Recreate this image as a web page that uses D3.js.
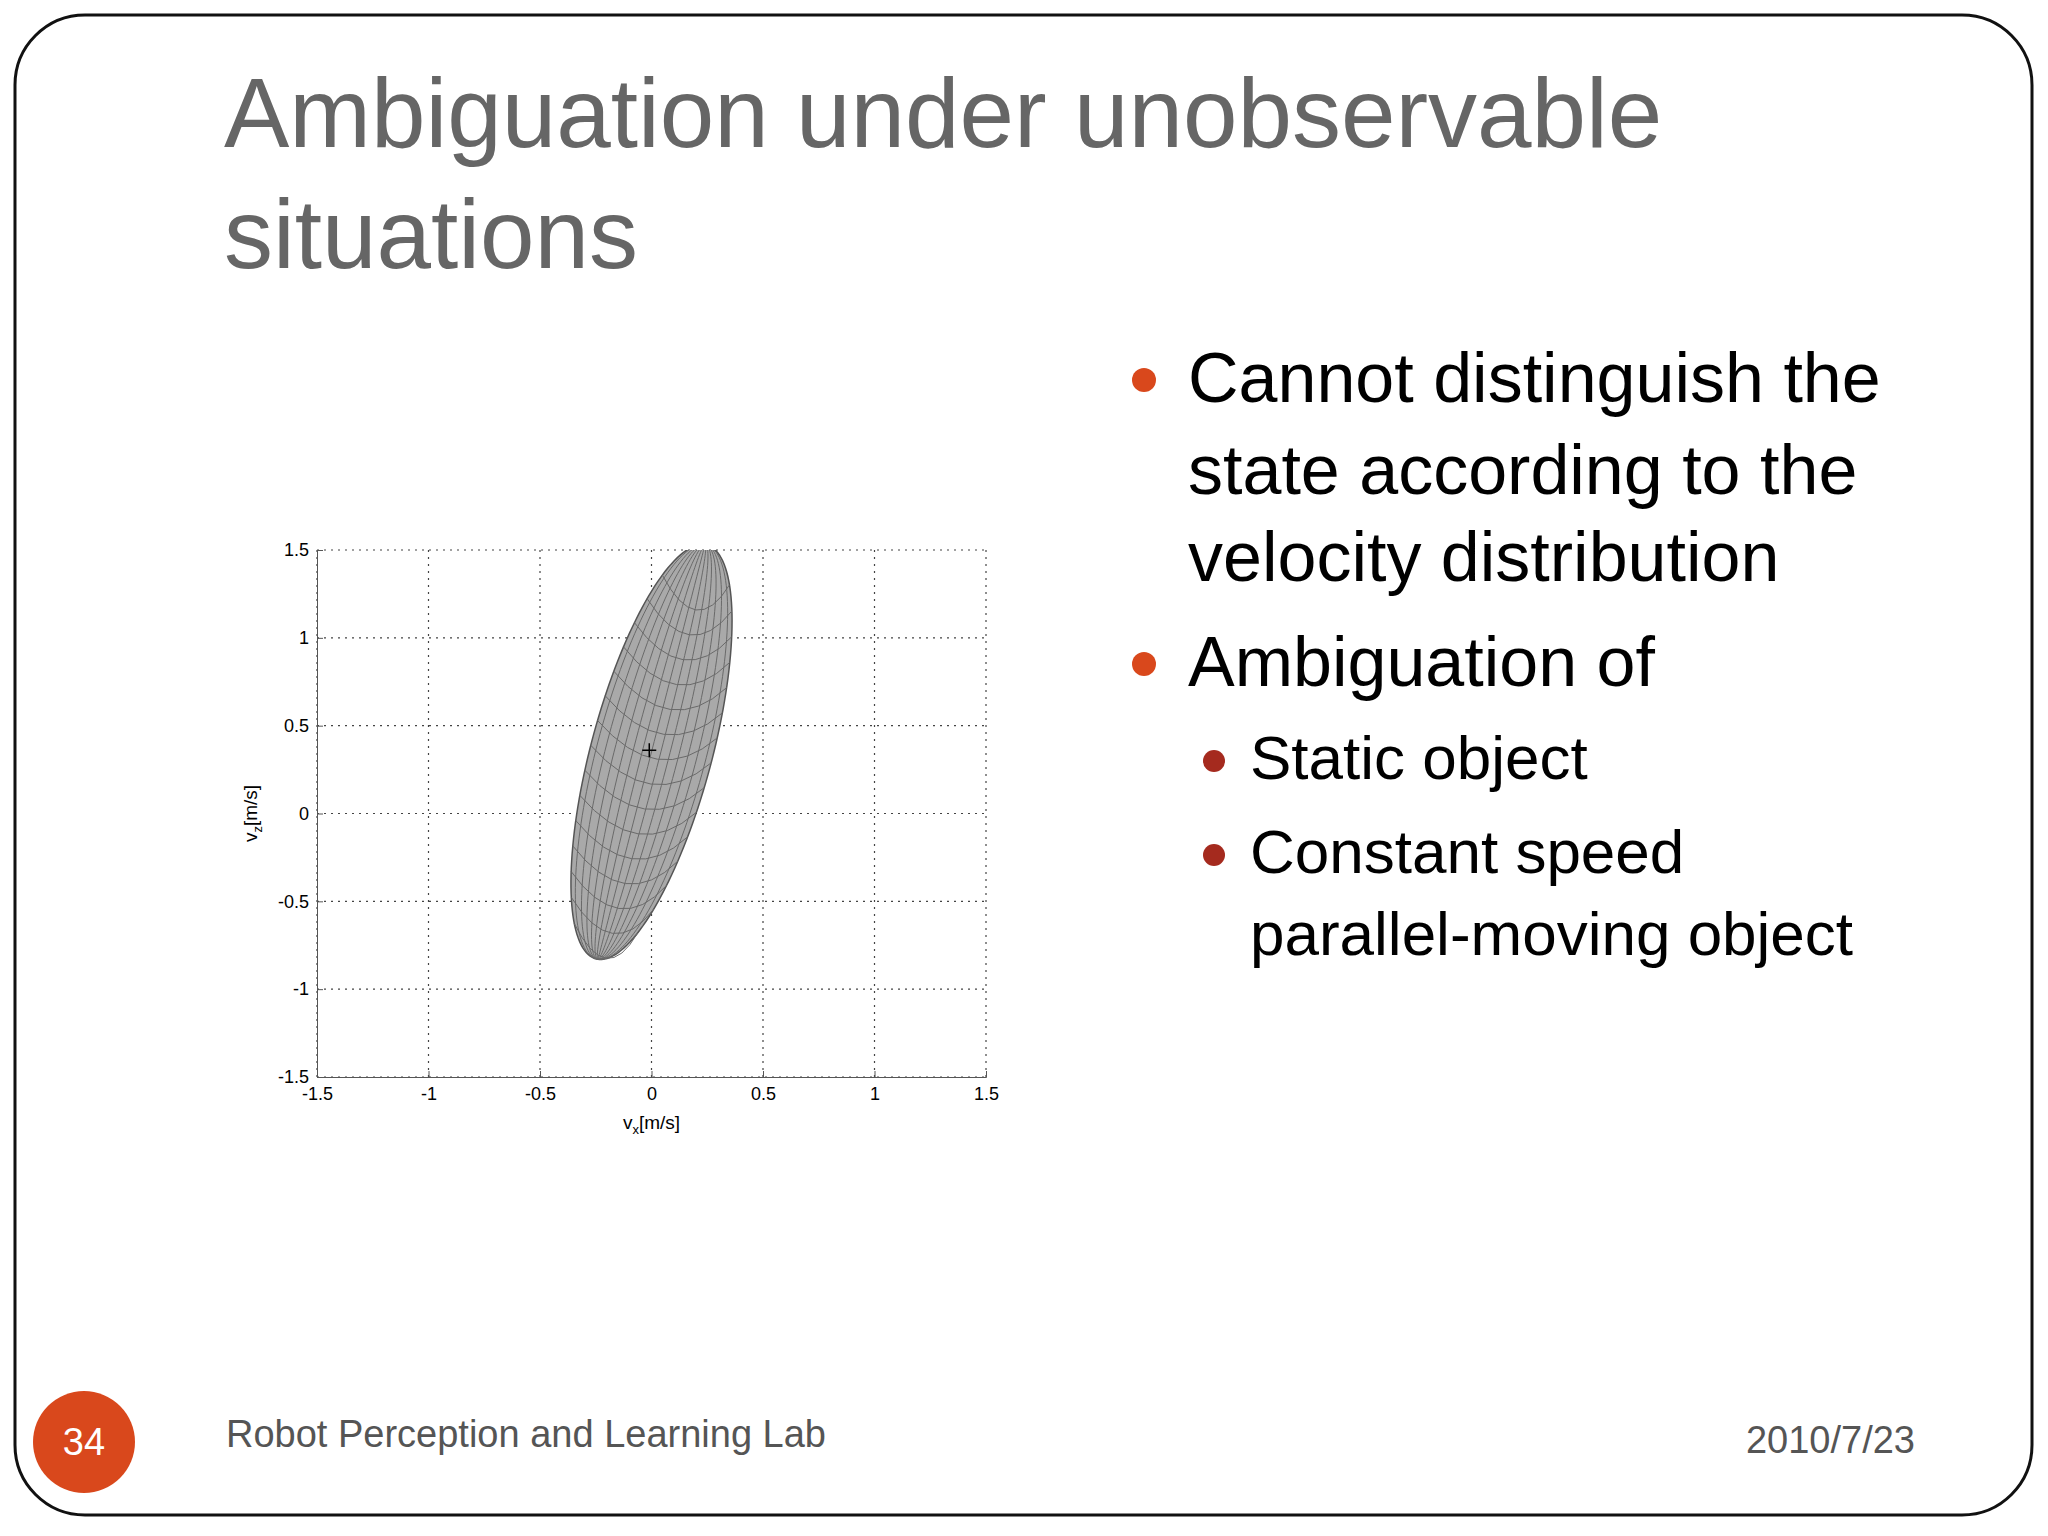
<!DOCTYPE html><html><head><meta charset="utf-8"><script src="https://cdn.jsdelivr.net/npm/d3@7"></script>
<style>body{margin:0;background:#fff}text{font-family:"Liberation Sans",Arial,sans-serif}</style></head><body>
<svg id="s" width="2048" height="1536"></svg>
<script>
const xTicks=[-1.5,-1,-0.5,0,0.5,1,1.5];
const yTicks=[-1.5,-1,-0.5,0,0.5,1,1.5];
const tickLabels=["-1.5","-1","-0.5","0","0.5","1","1.5"];
const ellipseCenter=[0.0,0.35];
const ellipseMajor=[0.24,1.18];
const ellipseMinor=[0.27,-0.05];
const meanPoint=[-0.01,0.36];
const bullets=["Cannot distinguish the","state according to the","velocity distribution","Ambiguation of"];
const subBullets=["Static object","Constant speed","parallel-moving object"];

const svg=d3.select("#s");
svg.append("rect").attr("x",15).attr("y",15).attr("width",2017).attr("height",1500).attr("rx",70).attr("fill","#fff").attr("stroke","#111").attr("stroke-width",3);
svg.append("text").attr("x",224).attr("y",147).attr("font-size",98).attr("fill","#666").text("Ambiguation under unobservable");
svg.append("text").attr("x",224).attr("y",268).attr("font-size",98).attr("fill","#666").text("situations");
const by=[402,494,581,686];
bullets.forEach((t,i)=>{svg.append("text").attr("x",1188).attr("y",by[i]).attr("font-size",70).attr("fill","#000").text(t);});
[0,3].forEach(i=>svg.append("circle").attr("cx",1144).attr("cy",by[i]-22).attr("r",12).attr("fill","#d9481c"));
const sy=[779,873,955];
subBullets.forEach((t,i)=>svg.append("text").attr("x",1250).attr("y",sy[i]).attr("font-size",62).attr("fill","#000").text(t));
[0,1].forEach(i=>svg.append("circle").attr("cx",1214).attr("cy",sy[i]-18).attr("r",11).attr("fill","#a52a1e"));
svg.append("circle").attr("cx",84).attr("cy",1442).attr("r",51).attr("fill","#d9481c");
svg.append("text").attr("x",84).attr("y",1455).attr("text-anchor","middle").attr("font-size",38).attr("fill","#fff").text("34");
svg.append("text").attr("x",226).attr("y",1447).attr("font-size",38).attr("fill","#555").text("Robot Perception and Learning Lab");
svg.append("text").attr("x",1915).attr("y",1453).attr("text-anchor","end").attr("font-size",38).attr("fill","#555").text("2010/7/23");

const L=317,R=986,T=550,B=1077;
const x=d3.scaleLinear().domain([-1.5,1.5]).range([L,R]);
const y=d3.scaleLinear().domain([-1.5,1.5]).range([B,T]);
const g=svg.append("g");
g.append("defs").append("clipPath").attr("id","c").append("rect").attr("x",L).attr("y",T).attr("width",R-L).attr("height",B-T);
xTicks.forEach(v=>g.append("line").attr("x1",x(v)).attr("x2",x(v)).attr("y1",T).attr("y2",B).attr("stroke","#444").attr("stroke-width",1.2).attr("stroke-dasharray","2,5"));
yTicks.forEach(v=>g.append("line").attr("x1",L).attr("x2",R).attr("y1",y(v)).attr("y2",y(v)).attr("stroke","#444").attr("stroke-width",1.2).attr("stroke-dasharray","2,5"));
const pg=g.append("g").attr("clip-path","url(#c)");
const pt=(k,t)=>[x(ellipseCenter[0]+ellipseMajor[0]*Math.cos(t)+k*ellipseMinor[0]*Math.sin(t)),y(ellipseCenter[1]+ellipseMajor[1]*Math.cos(t)+k*ellipseMinor[1]*Math.sin(t))];
const ts=d3.range(0,Math.PI*2+0.01,0.04);
const line=d3.line();
pg.append("path").attr("d",line(ts.map(t=>pt(1,t)))+"Z").attr("fill","#a9a9a9").attr("stroke","#555").attr("stroke-width",1.5);
d3.range(-0.9,0.95,0.15).forEach(k=>pg.append("path").attr("d",line(d3.range(0,Math.PI+0.01,0.04).map(t=>pt(k,t)))).attr("fill","none").attr("stroke","#6a6a6a").attr("stroke-width",1));
// cross-mesh lines
d3.range(-0.85,0.9,0.12).forEach(c=>{const tt=Math.acos(c);const a=pt(1,tt),b=pt(-1,tt);
 const m=[(a[0]+b[0])/2+ (a[0]-b[0])*0.0,(a[1]+b[1])/2+60];
 pg.append("path").attr("d",`M${a[0]},${a[1]}Q${m[0]},${m[1]} ${b[0]},${b[1]}`).attr("fill","none").attr("stroke","#6a6a6a").attr("stroke-width",1);});
g.append("path").attr("d",`M${x(meanPoint[0])-7},${y(meanPoint[1])}h14M${x(meanPoint[0])},${y(meanPoint[1])-7}v14`).attr("stroke","#000").attr("stroke-width",1.5);
g.append("g").attr("transform",`translate(0,${B})`).call(d3.axisBottom(x).tickValues(xTicks).tickFormat((d,i)=>tickLabels[i]).tickSize(-6).tickPadding(10)).call(a=>{a.selectAll("text").attr("font-size",18).attr("fill","#000");a.selectAll("path,line").attr("stroke","#555");});
g.append("g").attr("transform",`translate(${L},0)`).call(d3.axisLeft(y).tickValues(yTicks).tickFormat((d,i)=>tickLabels[i]).tickSize(-6).tickPadding(8)).call(a=>{a.selectAll("text").attr("font-size",18).attr("fill","#000");a.selectAll("path,line").attr("stroke","#555");});
g.append("text").attr("x",(L+R)/2).attr("y",B+52).attr("text-anchor","middle").attr("font-size",19).html('v<tspan font-size="13" dy="5">x</tspan><tspan dy="-5">[m/s]</tspan>');
g.append("text").attr("transform",`translate(${L-60},${(T+B)/2}) rotate(-90)`).attr("text-anchor","middle").attr("font-size",19).html('v<tspan font-size="13" dy="5">z</tspan><tspan dy="-5">[m/s]</tspan>');
</script></body></html>
